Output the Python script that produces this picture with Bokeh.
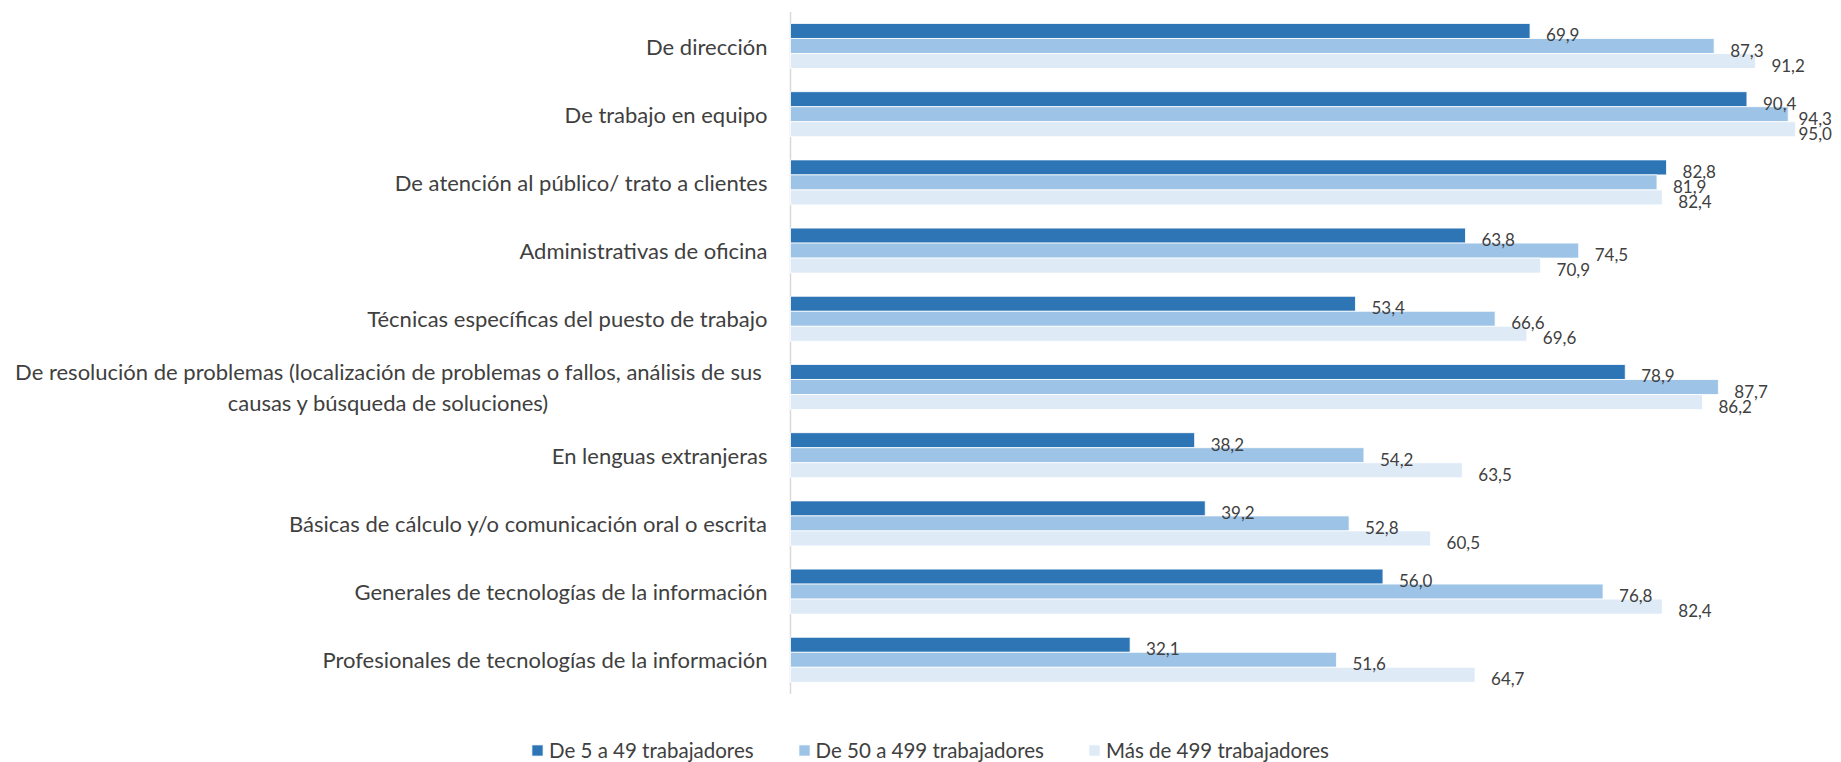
from bokeh.plotting import figure
from bokeh.models import (ColumnDataSource, Range1d, LabelSet, Legend, LegendItem)
from bokeh.core.properties import value
from bokeh.embed import file_html
from bokeh.resources import INLINE

categories = [
    "De dirección",
    "De trabajo en equipo",
    "De atención al público/ trato a clientes",
    "Administrativas de oficina",
    "Técnicas específicas del puesto de trabajo",
    "De resolución de problemas (localización de problemas o fallos, análisis de sus\ncausas y búsqueda de soluciones)",
    "En lenguas extranjeras",
    "Básicas de cálculo y/o comunicación oral o escrita",
    "Generales de tecnologías de la información",
    "Profesionales de tecnologías de la información",
]
series_names = ["De 5 a 49 trabajadores", "De 50 a 499 trabajadores", "Más de 499 trabajadores"]
small = [69.9, 90.4, 82.8, 63.8, 53.4, 78.9, 38.2, 39.2, 56.0, 32.1]
medium = [87.3, 94.3, 81.9, 74.5, 66.6, 87.7, 54.2, 52.8, 76.8, 51.6]
large = [91.2, 95.0, 82.4, 70.9, 69.6, 86.2, 63.5, 60.5, 82.4, 64.7]

colors = ["#2E75B6", "#9DC3E6", "#DEEBF7"]
FONT = "Lato"
TXT = "#404040"

# layout (pixels)
W, H = 1836, 762
AX_PX = 790          # position of the value axis (x = 0)
XSCALE = 10.58       # px per unit
TOP_CENTER = 45.5    # centre of first category group
YSCALE = 68.2        # px per category
LINE_GAP = 31        # px between lines of a wrapped label

n = len(categories)
ypos = [n - 1 - i for i in range(n)]

x_range = Range1d(-AX_PX / XSCALE, (W - AX_PX) / XSCALE)
y_top = (n - 1) + TOP_CENTER / YSCALE
y_range = Range1d(y_top - H / YSCALE, y_top)

p = figure(width=W, height=H, output_backend="svg", toolbar_location=None,
           x_range=x_range, y_range=y_range, x_axis_type=None, y_axis_type=None,
           min_border=0, min_border_left=0, min_border_right=0,
           min_border_top=0, min_border_bottom=0)
p.outline_line_color = None
p.grid.visible = False
p.background_fill_color = "white"
p.border_fill_color = "white"

# value axis line
p.segment(x0=[0], y0=[-0.5], x1=[0], y1=[n - 0.5], line_color="#D9D9D9", line_width=1.5)

bh = 0.22
offsets = [bh, 0.0, -bh]
renderers = []
for vals, col, off in zip([small, medium, large], colors, offsets):
    ys = [y + off for y in ypos]
    labels = [f"{v:.1f}".replace(".", ",") for v in vals]
    # keep labels inside the chart area near the right edge
    xo = [min(16, (W - AX_PX - 38) - v * XSCALE) for v in vals]
    src = ColumnDataSource(dict(y=ys, right=vals, lab=labels, xo=xo))
    r = p.hbar(y="y", left=0, right="right", height=bh, source=src,
               fill_color=col, line_color="white", line_width=0.8)
    renderers.append(r)
    p.add_layout(LabelSet(x="right", y="y", text="lab", source=src, x_offset="xo", y_offset=-4,
                          text_font=value(FONT), text_font_size="17px", text_color=TXT,
                          text_baseline="middle", text_align="left"))

# category labels
single = [(y, c) for y, c in zip(ypos, categories) if "\n" not in c]
src1 = ColumnDataSource(dict(x=[0] * len(single), y=[s[0] for s in single], t=[s[1] for s in single]))
p.add_layout(LabelSet(x="x", y="y", text="t", source=src1, x_offset=-23,
                      text_font=value(FONT), text_font_size="22px", text_color=TXT,
                      text_baseline="middle", text_align="right"))

# wrapped label: each line centred on the block
mx, my, mt, myo = [], [], [], []
for y, c in zip(ypos, categories):
    if "\n" in c:
        lines = c.split("\n")
        k = len(lines)
        for j, ln in enumerate(lines):
            mx.append(0)
            my.append(y)
            mt.append(ln)
            myo.append(((k - 1) / 2 - j) * LINE_GAP)
src2 = ColumnDataSource(dict(x=mx, y=my, t=mt, yo=myo))
p.add_layout(LabelSet(x="x", y="y", text="t", source=src2, x_offset=-402, y_offset="yo",
                      text_font=value(FONT), text_font_size="22px", text_color=TXT,
                      text_baseline="middle", text_align="center"))

legend = Legend(items=[LegendItem(label=nm, renderers=[r]) for nm, r in zip(series_names, renderers)],
                orientation="horizontal", location=(530, 0),
                glyph_width=14, glyph_height=14, label_standoff=5, spacing=43,
                padding=0, margin=0, border_line_color=None, background_fill_alpha=0,
                label_text_font=FONT, label_text_font_size="20.5px", label_text_color=TXT,
                label_height=22)
p.add_layout(legend)

open("out.html", "w").write(file_html(p, INLINE))
